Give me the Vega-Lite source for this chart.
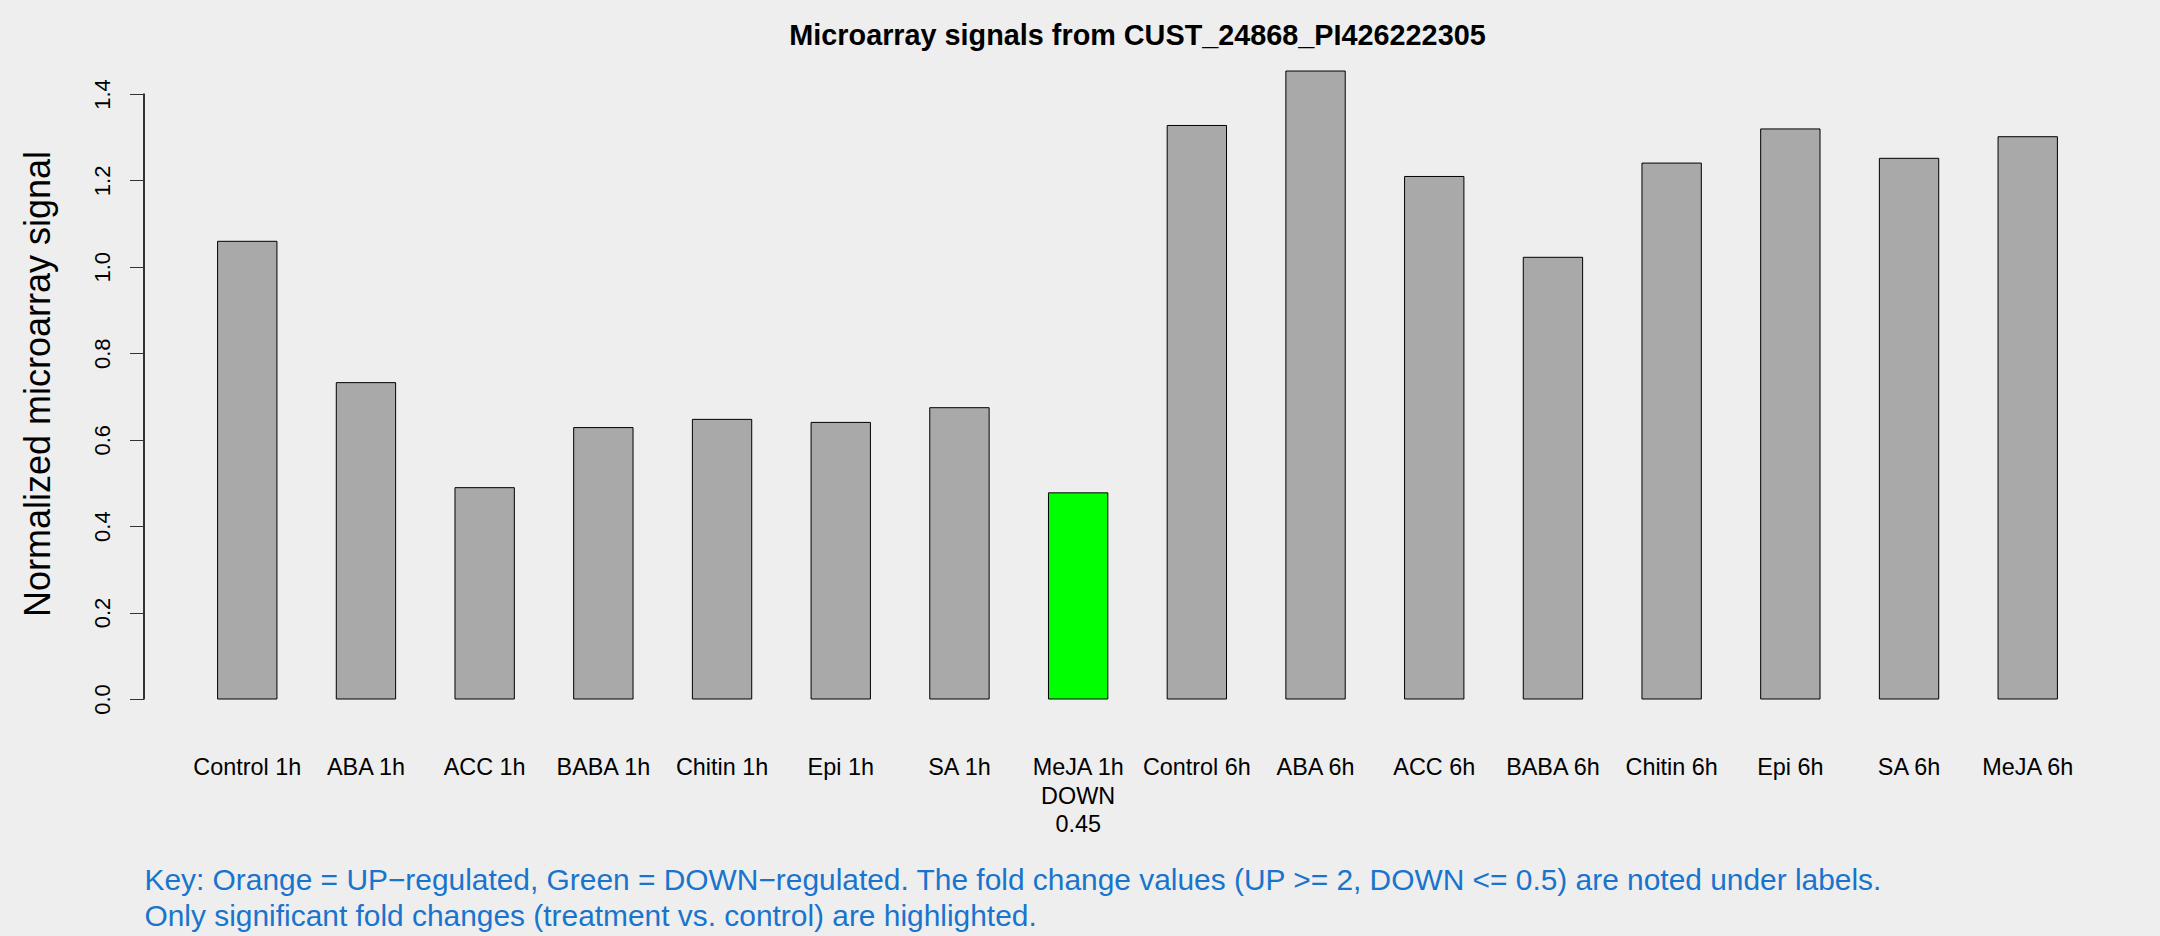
{
  "$schema": "https://vega.github.io/schema/vega-lite/v6.json",
  "autosize": {"type": "none"},
  "width": 1987,
  "height": 631,
  "padding": {"left": 144, "top": 68, "right": 29, "bottom": 237},
  "background": "#EEEEEE",
  "config": {
    "view": {"stroke": null},
    "font": "Liberation Sans",
    "title": {"fontSize": 28.8, "fontWeight": "bold", "color": "#000000", "anchor": "middle", "offset": 17, "font": "Liberation Sans"},
    "axis": {"labelFont": "Liberation Sans", "titleFont": "Liberation Sans", "labelColor": "#000000", "titleColor": "#000000", "domainColor": "#333333", "tickColor": "#333333", "grid": false}
  },
  "title": "Microarray signals from CUST_24868_PI426222305",
  "data": {
    "values": [
      {"label": "Control 1h", "signal": 1.059, "regulation": "none"},
      {"label": "ABA 1h", "signal": 0.732, "regulation": "none"},
      {"label": "ACC 1h", "signal": 0.489, "regulation": "none"},
      {"label": "BABA 1h", "signal": 0.628, "regulation": "none"},
      {"label": "Chitin 1h", "signal": 0.647, "regulation": "none"},
      {"label": "Epi 1h", "signal": 0.640, "regulation": "none"},
      {"label": "SA 1h", "signal": 0.674, "regulation": "none"},
      {"label": "MeJA 1h\nDOWN\n0.45", "signal": 0.477, "regulation": "DOWN"},
      {"label": "Control 6h", "signal": 1.327, "regulation": "none"},
      {"label": "ABA 6h", "signal": 1.453, "regulation": "none"},
      {"label": "ACC 6h", "signal": 1.209, "regulation": "none"},
      {"label": "BABA 6h", "signal": 1.022, "regulation": "none"},
      {"label": "Chitin 6h", "signal": 1.240, "regulation": "none"},
      {"label": "Epi 6h", "signal": 1.319, "regulation": "none"},
      {"label": "SA 6h", "signal": 1.251, "regulation": "none"},
      {"label": "MeJA 6h", "signal": 1.301, "regulation": "none"}
    ]
  },
  "layer": [
    {
      "mark": {"type": "bar", "stroke": "#000000", "strokeWidth": 1, "opacity": 1},
      "encoding": {
        "x": {
          "field": "label",
          "type": "nominal",
          "sort": null,
          "scale": {"paddingInner": 0.5, "paddingOuter": 0.62},
          "axis": {
            "orient": "bottom",
            "domain": false,
            "ticks": false,
            "tickSize": 0,
            "labelAngle": 0,
            "labelAlign": "center",
            "labelBaseline": "top",
            "labelFontSize": 23.4,
            "labelLineHeight": 28.5,
            "labelPadding": 57.5,
            "labelOverlap": false,
            "labelLimit": 400,
            "labelExpr": "split(datum.value, '\\n')",
            "title": ["Key: Orange = UP−regulated, Green = DOWN−regulated. The fold change values (UP >= 2, DOWN <= 0.5) are noted under labels.", "Only significant fold changes (treatment vs. control) are highlighted."],
            "titleFontSize": 29.9,
            "titleFontWeight": "normal",
            "titleColor": "#1874CD",
            "titleAnchor": "start",
            "titleAlign": "left",
            "titleLineHeight": 36,
            "titlePadding": 30
          }
        },
        "y": {
          "field": "signal",
          "type": "quantitative",
          "scale": {"domain": [0, 1.46], "nice": false, "zero": true},
          "axis": {
            "values": [0, 0.2, 0.4, 0.6, 0.8, 1.0, 1.2, 1.4],
            "format": ".1f",
            "domain": false,
            "labelAngle": -90,
            "labelAlign": "center",
            "labelBaseline": "bottom",
            "labelFontSize": 22,
            "tickSize": 14.5,
            "labelPadding": 15.5,
            "title": "Normalized microarray signal",
            "titleFontSize": 36,
            "titleFontWeight": "normal",
            "titlePadding": 34
          }
        },
        "color": {
          "field": "regulation",
          "type": "nominal",
          "scale": {"domain": ["none", "DOWN"], "range": ["#A9A9A9", "#00FF00"]},
          "legend": null
        }
      }
    },
    {
      "mark": {"type": "rule", "color": "#333333", "strokeWidth": 1},
      "encoding": {
        "x": {"datum": 0, "type": "quantitative", "scale": {"domain": [0, 1]}, "axis": null},
        "y": {"datum": 0, "type": "quantitative"},
        "y2": {"datum": 1.4}
      }
    }
  ],
  "resolve": {"scale": {"x": "independent"}, "axis": {"x": "independent"}}
}
